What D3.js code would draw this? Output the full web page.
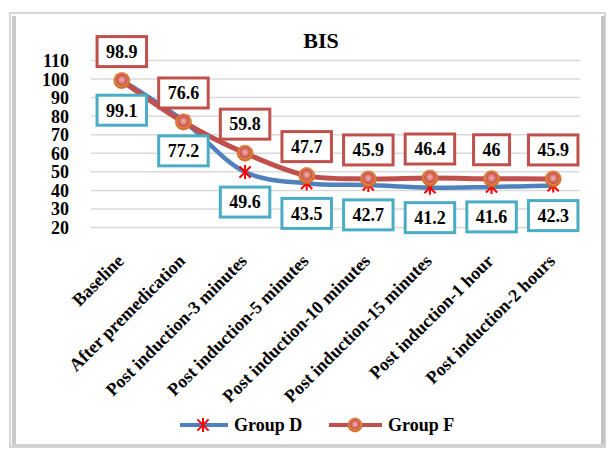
<!DOCTYPE html>
<html>
<head>
<meta charset="utf-8">
<script src="https://cdn.jsdelivr.net/npm/d3@7"></script>
<style>
  html, body { margin: 0; padding: 0; background: #fff; }
  svg text { font-family: "Liberation Serif", "Times New Roman", serif; font-weight: bold; fill: #000; }
</style>
</head>
<body>
<svg id="chart" width="607" height="450"></svg>
<script>
// BIS over time for the two study groups
const categories = [
  "Baseline",
  "After premedication",
  "Post induction-3 minutes",
  "Post induction-5 minutes",
  "Post induction-10 minutes",
  "Post induction-15 minutes",
  "Post induction-1 hour",
  "Post induction-2 hours"
];
const groupD = [99.1, 77.2, 49.6, 43.5, 42.7, 41.2, 41.6, 42.3];
const groupF = [98.9, 76.6, 59.8, 47.7, 45.9, 46.4, 46, 45.9];
const yTicks = [20, 30, 40, 50, 60, 70, 80, 90, 100, 110];
const seriesNames = ["Group D", "Group F"];
const chartTitle = "BIS";

const svg = d3.select("#chart");
const defs = svg.append("defs");

// chart frame with bevelled edges
svg.append("rect").attr("x", 10).attr("y", 13).attr("width", 595).attr("height", 434)
  .attr("fill", "#fff").attr("stroke", "#d6d6d6").attr("stroke-width", 2);
svg.append("rect").attr("x", 12).attr("y", 16).attr("width", 4).attr("height", 429).attr("fill", "#c9c9c9");
svg.append("rect").attr("x", 601).attr("y", 16).attr("width", 4).attr("height", 430).attr("fill", "#c4c4c4");
svg.append("rect").attr("x", 12).attr("y", 444).attr("width", 593).attr("height", 3).attr("fill", "#d0d0d0");

const x = d3.scaleBand().domain(categories).range([91, 584]);
const y = d3.scaleLinear().domain([20, 110]).range([227, 60]);
const cx = c => x(c) + x.bandwidth() / 2;

// horizontal gridlines
svg.append("g")
  .attr("transform", "translate(91,0)")
  .call(d3.axisLeft(y).tickValues(yTicks).tickSize(-(584 - 91 - 4)).tickFormat(""))
  .call(g => g.select(".domain").remove())
  .call(g => g.selectAll("line").attr("stroke", "#d9d9d9").attr("stroke-width", 1.5));

// y axis labels
svg.append("g")
  .attr("transform", "translate(69,0)")
  .call(d3.axisLeft(y).tickValues(yTicks).tickSize(0).tickPadding(0))
  .call(g => g.select(".domain").remove())
  .call(g => g.selectAll("text").attr("font-size", 18).attr("dy", "0.36em")
    .style("font-family", "'Liberation Serif', 'Times New Roman', serif").style("font-weight", "bold"));

// x axis labels, rotated
svg.append("g")
  .attr("transform", "translate(0,227)")
  .call(d3.axisBottom(x).tickSize(0))
  .call(g => g.select(".domain").remove())
  .call(g => g.selectAll("text")
    .attr("font-size", 18).attr("text-anchor", "end").attr("x", 0).attr("y", 0).attr("dy", 0)
    .attr("transform", "translate(3,35) rotate(-45)")
    .style("font-family", "'Liberation Serif', 'Times New Roman', serif").style("font-weight", "bold"));

// title
svg.append("text").attr("x", 321).attr("y", 48).attr("text-anchor", "middle")
  .attr("font-size", 22).text(chartTitle);

// marker gradient for Group F
const grad = defs.append("radialGradient").attr("id", "ballF")
  .attr("cx", "50%").attr("cy", "45%").attr("r", "50%");
[["0%", "#f2b8b4"], ["45%", "#d9706c"], ["68%", "#c4504c"], ["76%", "#e88a48"], ["100%", "#c8661e"]]
  .forEach(([o, c]) => grad.append("stop").attr("offset", o).attr("stop-color", c));

const line = d3.line()
  .x((d, i) => cx(categories[i]))
  .y(d => y(d))
  .curve(d3.curveCatmullRom.alpha(0.5));

function asterisk(g, px, py, s) {
  const a = s * 0.8;
  g.append("path")
    .attr("d", `M${px - a},${py - a}L${px + a},${py + a}M${px - a},${py + a}L${px + a},${py - a}M${px},${py - s}L${px},${py + s}`)
    .attr("stroke", "#ff0000").attr("stroke-width", 2).attr("fill", "none");
}
function ball(g, px, py, r) {
  g.append("circle").attr("cx", px).attr("cy", py).attr("r", r)
    .attr("fill", "url(#ballF)").attr("stroke", "#d9782e").attr("stroke-width", 0.8);
}

// Group D
const gD = svg.append("g");
gD.append("path").attr("d", line(groupD)).attr("fill", "none")
  .attr("stroke", "#4f81bd").attr("stroke-width", 4.5);
groupD.forEach((v, i) => asterisk(gD, cx(categories[i]), y(v), 7));

// Group F
const gF = svg.append("g");
gF.append("path").attr("d", line(groupF)).attr("fill", "none")
  .attr("stroke", "#c0504d").attr("stroke-width", 5);
groupF.forEach((v, i) => ball(gF, cx(categories[i]), y(v), 8));

// boxed value labels
function boxLabel(px, py, txt, color) {
  const g = svg.append("g");
  const t = g.append("text").attr("x", px).attr("y", py).attr("text-anchor", "middle")
    .attr("dy", "0.35em").attr("font-size", 18).text(txt);
  const w = t.node().getComputedTextLength() + 18;
  g.insert("rect", "text").attr("x", px - w / 2).attr("y", py - 15).attr("width", w).attr("height", 30)
    .attr("fill", "#fff").attr("stroke", color).attr("stroke-width", 3);
}
groupF.forEach((v, i) => boxLabel(cx(categories[i]), y(v) - 29, String(v), "#c0504d"));
groupD.forEach((v, i) => boxLabel(cx(categories[i]), y(v) + 30, String(v), "#4bacc6"));

// legend
const lg = svg.append("g");
lg.append("line").attr("x1", 180).attr("x2", 228).attr("y1", 425).attr("y2", 425)
  .attr("stroke", "#4f81bd").attr("stroke-width", 4);
asterisk(lg, 203, 425, 7);
lg.append("text").attr("x", 234).attr("y", 431).attr("font-size", 18).text(seriesNames[0]);
lg.append("line").attr("x1", 329).attr("x2", 382).attr("y1", 425).attr("y2", 425)
  .attr("stroke", "#c0504d").attr("stroke-width", 4);
ball(lg, 355, 425, 7);
lg.append("text").attr("x", 388).attr("y", 431).attr("font-size", 18).text(seriesNames[1]);
</script>
</body>
</html>
